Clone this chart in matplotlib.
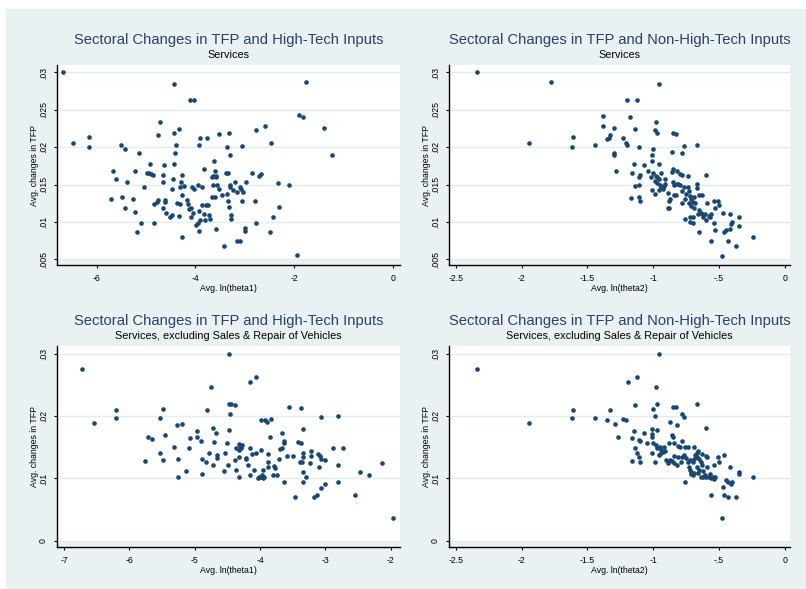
import matplotlib
matplotlib.use("Agg")
import matplotlib.pyplot as plt
from matplotlib.patches import Rectangle

plt.rcParams['font.family'] = ['Liberation Sans', 'DejaVu Sans']

# panel 1: Services, high-tech inputs
theta1_all = [-6.68, -6.47, -6.16, -6.16, -4.44, -4.11, -4.03, -1.77, -1.90, -1.83,
              -1.40, -1.23, -2.59, -2.77, -4.71, -4.75, -4.44, -4.34, -4.39, -4.42,
              -4.44, -3.90, -3.77, -3.92, -3.52, -3.32, -3.37, -3.30, -3.05, -2.47,
              -5.51, -5.43, -5.14, -5.66, -5.60, -5.39, -5.22, -4.92, -4.99, -4.93,
              -4.89, -4.85, -4.64, -4.66, -5.04, -4.65, -4.46, -4.27, -4.30, -4.48,
              -4.32, -4.24, -4.27, -5.70, -5.48, -5.27, -5.43, -5.22, -5.10, -5.19,
              -4.84, -4.77, -4.75, -4.83, -4.66, -4.62, -4.61, -4.59, -4.51, -4.47,
              -4.38, -4.34, -4.31, -4.27, -4.18, -4.16, -4.14, -4.07, -4.10, -4.05,
              -4.03, -3.95, -3.93, -3.98, -3.94, -3.91, -3.92, -3.86, -3.87, -3.83,
              -3.78, -3.80, -3.82, -3.75, -3.72, -3.71, -3.67, -3.64, -3.65, -3.62,
              -3.60, -3.59, -3.57, -3.59, -3.67, -3.61, -3.47, -3.43, -3.39, -3.34,
              -3.36, -3.34, -3.32, -3.30, -3.30, -3.28, -3.29, -3.24, -3.20, -3.17,
              -3.11, -3.08, -3.16, -3.11, -3.05, -3.03, -2.98, -2.99, -3.00, -2.86,
              -2.71, -2.68, -2.79, -2.77, -2.49, -2.44, -2.33, -2.31, -2.10, -1.94,
              -3.58, -3.52, -4.10]
tfp_all = [.0300, .0205, .0213, .0200, .0285, .0263, .0263, .0287, .0243, .0240,
           .0226, .0189, .0229, .0223, .0234, .0216, .0219, .0224, .0203, .0192,
           .0177, .0212, .0212, .0203, .0218, .0219, .0200, .0190, .0202, .0205,
           .0203, .0197, .0192, .0168, .0158, .0153, .0168, .0177, .0166, .0165,
           .0164, .0163, .0176, .0163, .0147, .0153, .0158, .0163, .0153, .0144,
           .0147, .0148, .0136, .0131, .0134, .0131, .0118, .0113, .0099, .0086,
           .0124, .0127, .0129, .0099, .0118, .0129, .0127, .0112, .0107, .0109,
           .0126, .0108, .0124, .0080, .0129, .0124, .0117, .0147, .0106, .0112,
           .0144, .0150, .0115, .0096, .0099, .0102, .0088, .0147, .0123, .0111,
           .0123, .0103, .0171, .0123, .0109, .0104, .0160, .0162, .0149, .0181,
           .0168, .0161, .0150, .0090, .0133, .0133, .0136, .0068, .0166, .0166,
           .0138, .0128, .0120, .0150, .0147, .0109, .0104, .0143, .0153, .0140,
           .0147, .0144, .0075, .0075, .0128, .0140, .0153, .0092, .0088, .0165,
           .0162, .0164, .0128, .0098, .0087, .0107, .0152, .0120, .0150, .0056,
           .0160, .0144, .0118]

# panel 2: Services, non-high-tech inputs
theta2_all = [-2.34, -1.78, -0.96, -1.94, -1.61, -1.62, -1.44, -1.20, -1.12, -1.38,
              -1.18, -1.38, -1.30, -0.98, -1.14, -0.99, -0.97, -0.85, -0.83, -1.33,
              -1.34, -1.35, -1.23, -1.21, -1.20, -1.11, -1.00, -1.01, -0.86, -0.77,
              -0.67, -0.78, -1.30, -1.30, -1.28, -1.15, -1.16, -1.07, -1.01, -0.96,
              -1.04, -1.10, -1.11, -1.00, -0.98, -0.97, -0.96, -0.97, -0.94, -0.91,
              -0.86, -0.85, -0.82, -0.80, -0.78, -0.74, -0.60, -1.14, -1.11, -1.17,
              -1.11, -1.10, -1.01, -0.99, -0.94, -0.92, -0.91, -0.89, -0.88, -0.89,
              -0.88, -0.85, -0.84, -0.81, -0.80, -0.84, -0.78, -0.77, -0.75, -0.74,
              -0.73, -0.72, -0.71, -0.70, -0.78, -0.73, -0.69, -0.68, -0.67, -0.67,
              -0.65, -0.63, -0.76, -0.72, -0.72, -0.70, -0.70, -0.65, -0.65, -0.64,
              -0.63, -0.62, -0.60, -0.59, -0.57, -0.56, -0.54, -0.56, -0.54, -0.53,
              -0.53, -0.51, -0.50, -0.48, -0.47, -0.46, -0.45, -0.43, -0.42, -0.42,
              -0.41, -0.40, -0.37, -0.35, -0.35, -0.24, -0.83, -0.99, -0.95, -0.93,
              -0.87, -0.82, -0.76, -0.71, -0.69, -0.66, -0.61, -0.58, -1.02, -0.96]
tfp2_all = [.0300, .0287, .0285, .0205, .0213, .0200, .0203, .0263, .0263, .0242,
            .0240, .0229, .0226, .0234, .0224, .0223, .0219, .0219, .0218, .0216,
            .0212, .0211, .0212, .0205, .0203, .0200, .0197, .0190, .0193, .0202,
            .0203, .0192, .0192, .0189, .0168, .0177, .0166, .0176, .0181, .0177,
            .0168, .0163, .0160, .0165, .0162, .0160, .0157, .0152, .0165, .0157,
            .0167, .0171, .0168, .0164, .0163, .0162, .0163, .0148, .0150, .0132,
            .0134, .0128, .0143, .0137, .0145, .0148, .0151, .0139, .0128, .0118,
            .0118, .0153, .0150, .0151, .0149, .0136, .0141, .0147, .0138, .0147,
            .0141, .0135, .0131, .0127, .0126, .0126, .0133, .0126, .0151, .0145,
            .0136, .0136, .0104, .0107, .0100, .0099, .0106, .0116, .0087, .0112,
            .0111, .0107, .0102, .0125, .0107, .0111, .0099, .0075, .0128, .0118,
            .0089, .0128, .0123, .0055, .0112, .0087, .0089, .0075, .0111, .0091,
            .0097, .0100, .0068, .0094, .0107, .0080, .0136, .0155, .0150, .0144,
            .0131, .0151, .0131, .0122, .0118, .0110, .0110, .0108, .0160, .0143]

# panel 3: Services excl. sales & repair of vehicles, high-tech inputs
theta1_ex = [-6.72, -6.54, -6.20, -6.20, -4.47, -4.75, -4.15, -4.07, -4.47, -4.44,
             -4.39, -4.46, -4.81, -5.49, -5.54, -5.27, -5.20, -4.97, -4.72, -4.68,
             -4.47, -5.71, -5.65, -5.45, -5.07, -4.97, -4.90, -4.70, -4.51, -5.32,
             -5.09, -5.54, -5.49, -5.77, -5.25, -4.79, -4.66, -4.66, -4.53, -4.83,
             -4.72, -4.49, -4.89, -5.14, -5.25, -4.89, -4.55, -4.39, -4.37, -4.33,
             -4.37, -4.33, -4.31, -4.28, -4.33, -4.29, -4.33, -4.22, -4.21, -4.18,
             -4.15, -4.15, -4.12, -4.06, -4.10, -4.03, -4.01, -3.97, -3.95, -3.98,
             -3.96, -3.94, -3.98, -3.93, -3.90, -3.83, -3.88, -3.88, -3.88, -3.85,
             -3.81, -3.79, -3.77, -3.74, -3.71, -3.69, -3.67, -3.67, -3.64, -3.64,
             -3.64, -3.59, -3.55, -3.50, -3.47, -3.42, -3.39, -3.37, -3.37, -3.36,
             -3.35, -3.34, -3.34, -3.34, -3.34, -3.30, -3.24, -3.22, -3.22, -3.18,
             -3.13, -3.12, -3.10, -3.09, -3.07, -3.07, -3.06, -3.01, -3.00, -2.89,
             -2.81, -2.80, -2.80, -2.73, -2.55, -2.47, -2.33, -2.14, -1.97, -3.98]
tfp_ex = [.0275, .0189, .0210, .0197, .0300, .0246, .0254, .0262, .0220, .0220,
          .0218, .0204, .0210, .0212, .0197, .0185, .0187, .0176, .0181, .0173,
          .0178, .0166, .0163, .0170, .0164, .0166, .0160, .0159, .0156, .0151,
          .0149, .0141, .0130, .0128, .0131, .0141, .0137, .0132, .0141, .0126,
          .0122, .0122, .0131, .0112, .0103, .0107, .0112, .0130, .0114, .0103,
          .0149, .0155, .0152, .0154, .0146, .0148, .0135, .0131, .0133, .0122,
          .0149, .0105, .0139, .0141, .0114, .0100, .0103, .0105, .0101, .0145,
          .0114, .0103, .0193, .0193, .0191, .0195, .0139, .0126, .0118, .0166,
          .0105, .0120, .0116, .0106, .0131, .0147, .0149, .0172, .0160, .0156,
          .0095, .0136, .0214, .0136, .0070, .0158, .0126, .0213, .0157, .0127,
          .0134, .0110, .0179, .0141, .0095, .0102, .0124, .0144, .0136, .0070,
          .0073, .0139, .0118, .0136, .0131, .0199, .0085, .0091, .0130, .0149,
          .0122, .0200, .0095, .0149, .0074, .0110, .0106, .0124, .0036, .0102]

# panel 4: Services excl. sales & repair of vehicles, non-high-tech inputs
theta2_ex = [-2.34, -1.94, -1.61, -1.62, -0.96, -1.19, -1.12, -0.98, -0.97, -1.14,
             -0.67, -0.85, -0.83, -1.00, -0.99, -1.33, -1.44, -1.35, -1.23, -1.21,
             -1.29, -0.87, -0.78, -0.77, -0.82, -0.60, -1.01, -0.97, -1.15, -1.07,
             -1.01, -1.01, -1.27, -1.16, -1.11, -1.10, -1.05, -1.00, -0.98, -0.97,
             -0.95, -0.94, -0.92, -0.86, -0.85, -0.78, -0.88, -0.84, -0.81, -0.80,
             -0.76, -1.14, -1.12, -1.11, -1.10, -1.16, -1.01, -0.99, -0.96, -0.95,
             -0.93, -0.91, -0.90, -0.89, -0.87, -0.84, -0.84, -0.81, -0.78, -0.77,
             -0.76, -0.75, -0.74, -0.73, -0.72, -0.72, -0.71, -0.70, -0.69, -0.70,
             -0.68, -0.67, -0.67, -0.67, -0.66, -0.65, -0.65, -0.64, -0.63, -0.63,
             -0.62, -0.60, -0.60, -0.59, -0.59, -0.58, -0.56, -0.57, -0.55, -0.54,
             -0.54, -0.53, -0.51, -0.50, -0.48, -0.47, -0.46, -0.46, -0.43, -0.45,
             -0.43, -0.42, -0.41, -0.40, -0.37, -0.35, -0.35, -0.24, -0.74, -0.71,
             -0.69, -0.66, -0.62, -0.61, -0.79, -0.82, -0.86, -0.69, -0.64, -0.56]
tfp2_ex = [.0275, .0189, .0210, .0197, .0300, .0254, .0262, .0246, .0220, .0218,
           .0220, .0214, .0214, .0212, .0200, .0210, .0197, .0193, .0195, .0193,
           .0187, .0191, .0204, .0198, .0185, .0181, .0179, .0178, .0176, .0173,
           .0171, .0166, .0166, .0164, .0161, .0160, .0156, .0156, .0153, .0149,
           .0151, .0146, .0150, .0170, .0166, .0160, .0156, .0156, .0152, .0150,
           .0150, .0149, .0141, .0135, .0126, .0128, .0141, .0126, .0137, .0139,
           .0142, .0144, .0130, .0124, .0130, .0136, .0124, .0134, .0134, .0138,
           .0095, .0133, .0150, .0119, .0129, .0113, .0107, .0126, .0150, .0105,
           .0137, .0134, .0118, .0140, .0144, .0131, .0113, .0103, .0139, .0121,
           .0103, .0103, .0136, .0134, .0118, .0103, .0074, .0107, .0103, .0099,
           .0122, .0103, .0134, .0126, .0036, .0086, .0137, .0074, .0070, .0097,
           .0094, .0118, .0091, .0095, .0070, .0107, .0110, .0103, .0126, .0110,
           .0108, .0109, .0112, .0106, .0127, .0122, .0128, .0131, .0127, .0101]

titles = ["Sectoral Changes in TFP and High-Tech Inputs",
          "Sectoral Changes in TFP and Non-High-Tech Inputs"]
subtitles = ["Services", "Services, excluding Sales & Repair of Vehicles"]
xlabels = ["Avg. ln(theta1)", "Avg. ln(theta2)"]
ylabel = "Avg. changes in TFP"

xticks1 = [-6, -4, -2, 0]
xticks2 = [-2.5, -2, -1.5, -1, -0.5, 0]
xticks3 = [-7, -6, -5, -4, -3, -2]
yticks_top = [.005, .01, .015, .02, .025, .03]
yticks_bot = [0, .01, .02, .03]

W, H = 806, 589
bg = '#eaf1f3'
navy = '#1a476f'
title_col = '#2c4066'


def fmt(v):
    if v == 0:
        return "0"
    return ("%g" % v).replace("0.", ".")


def panel(fig, box, x, y, xlim, ylim, xt, yt, title, sub, xlab):
    l, t, r, b = box
    ax = fig.add_axes([l / W, 1 - b / H, (r - l) / W, (b - t) / H])
    # white plot region stops a few pixels above the x axis line
    ax.set_facecolor(bg)
    gap = 5 / (b - t)
    ax.add_patch(Rectangle((0, gap), 1, 1 - gap, transform=ax.transAxes,
                           color='white', zorder=0, lw=0))
    for yy in yt:
        ax.axhline(yy, color='#e3ecef', lw=1.0, zorder=1)
    ax.scatter(x, y, s=11, color=navy, linewidths=0, zorder=3)
    ax.set_xlim(*xlim)
    ax.set_ylim(*ylim)
    ax.spines['top'].set_visible(False)
    ax.spines['right'].set_visible(False)
    ax.spines['left'].set_linewidth(1.0)
    ax.spines['bottom'].set_linewidth(1.0)
    ax.set_xticks(xt)
    ax.set_xticklabels([fmt(v) for v in xt], fontsize=6.3)
    ax.set_yticks(yt)
    ax.set_yticklabels([fmt(v) for v in yt], fontsize=6.3, rotation=90, va='center')
    ax.tick_params(length=2.5, width=0.8, pad=4)
    ax.set_xlabel(xlab, fontsize=6.3, labelpad=0.5)
    ax.set_ylabel(ylabel, fontsize=6.3, labelpad=0)
    cx = (l + r) / 2 / W
    fig.text(cx, 1 - (t - 25) / H, title, ha='center', va='center',
             fontsize=10.6, color=title_col)
    fig.text(cx, 1 - (t - 10) / H, sub, ha='center', va='center',
             fontsize=7.8, color='black')
    return ax


fig = plt.figure(figsize=(W / 100, H / 100), dpi=100)
fig.patch.set_facecolor('white')
fig.patches.append(Rectangle((6 / W, 0), 1 - 6 / W, 1 - 9 / H,
                             transform=fig.transFigure, color=bg, zorder=-10))

panel(fig, (57, 65, 400, 265), theta1_all, tfp_all, (-6.80, 0.135), (.00424, .031),
      xticks1, yticks_top, titles[0], subtitles[0], xlabels[0])
panel(fig, (449, 65, 790, 265), theta2_all, tfp2_all, (-2.551, 0.038), (.00424, .031),
      xticks2, yticks_top, titles[1], subtitles[0], xlabels[1])
panel(fig, (57, 346, 400, 547), theta1_ex, tfp_ex, (-7.11, -1.858), (-.0010, .03123),
      xticks3, yticks_bot, titles[0], subtitles[1], xlabels[0])
panel(fig, (449, 346, 790, 547), theta2_ex, tfp2_ex, (-2.551, 0.038), (-.0010, .03123),
      xticks2, yticks_bot, titles[1], subtitles[1], xlabels[1])

fig.savefig("out.png", dpi=100, facecolor=fig.get_facecolor())
